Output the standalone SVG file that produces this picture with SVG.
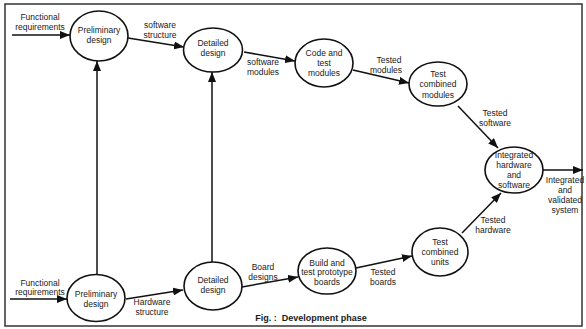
<svg xmlns="http://www.w3.org/2000/svg" width="586" height="329" viewBox="0 0 586 329">
<style>
.n{fill:#fff;stroke:#111;stroke-width:1.6}
.t{font-family:"Liberation Sans",Arial,sans-serif;font-size:8.5px;fill:#1a1a1a;text-anchor:middle;dominant-baseline:central}
.c{stroke:#111;stroke-width:1.5;fill:none;marker-end:url(#ah)}
.cap{font-family:"Liberation Sans",Arial,sans-serif;font-size:9px;font-weight:bold;fill:#1a1a1a;text-anchor:middle;dominant-baseline:central}
</style>
<defs>
<marker id="ah" markerUnits="userSpaceOnUse" markerWidth="10" markerHeight="8" refX="10" refY="4" orient="auto">
<path d="M0,0 L10,4 L0,8 z" fill="#111"/>
</marker>
</defs>
<rect x="0" y="0" width="586" height="329" fill="#fff"/>
<rect x="5" y="4" width="577" height="322" fill="none" stroke="#333" stroke-width="1.5"/>
<g id="connectors">
<line class="c" x1="12" y1="35" x2="70" y2="35"/>
<line class="c" x1="128" y1="38" x2="184" y2="47"/>
<line class="c" x1="97" y1="275" x2="97" y2="61"/>
<line class="c" x1="212" y1="262" x2="212" y2="72"/>
<line class="c" x1="244" y1="52" x2="295" y2="61"/>
<line class="c" x1="353" y1="70" x2="409" y2="83"/>
<line class="c" x1="458" y1="106" x2="498" y2="148"/>
<line class="c" x1="543" y1="170" x2="583" y2="170"/>
<line class="c" x1="462" y1="233" x2="501" y2="193"/>
<line class="c" x1="356" y1="268" x2="412" y2="256"/>
<line class="c" x1="242" y1="287" x2="298" y2="277"/>
<line class="c" x1="10" y1="299" x2="67" y2="299"/>
<line class="c" x1="126" y1="299" x2="183" y2="290"/>
<text class="t" x="40" y="17">Functional</text>
<text class="t" x="40" y="27">requirements</text>
<text class="t" x="160" y="25">software</text>
<text class="t" x="160" y="35">structure</text>
<text class="t" x="263" y="62">software</text>
<text class="t" x="263" y="72">modules</text>
<text class="t" x="389" y="60">Tested</text>
<text class="t" x="386" y="70">modules</text>
<text class="t" x="495" y="113">Tested</text>
<text class="t" x="495" y="123">software</text>
<text class="t" x="565" y="180">Integrated</text>
<text class="t" x="565" y="190">and</text>
<text class="t" x="565" y="200">validated</text>
<text class="t" x="565" y="210">system</text>
<text class="t" x="493" y="220">Tested</text>
<text class="t" x="493" y="230">hardware</text>
<text class="t" x="383" y="272">Tested</text>
<text class="t" x="383" y="282">boards</text>
<text class="t" x="263" y="267">Board</text>
<text class="t" x="263" y="277">designs</text>
<text class="t" x="40" y="283">Functional</text>
<text class="t" x="40" y="292">requirements</text>
<text class="t" x="152" y="302">Hardware</text>
<text class="t" x="152" y="312">structure</text>
</g>
<g id="prelim-sw">
<ellipse class="n" cx="99" cy="36" rx="29" ry="25"/>
<text class="t" x="99" y="30">Preliminary</text>
<text class="t" x="99" y="40">design</text>
</g>
<g id="detailed-sw">
<ellipse class="n" cx="213" cy="50" rx="29.5" ry="22"/>
<text class="t" x="213" y="43">Detailed</text>
<text class="t" x="213" y="53">design</text>
</g>
<g id="code-test">
<ellipse class="n" cx="324" cy="63" rx="29" ry="24"/>
<text class="t" x="324" y="53">Code and</text>
<text class="t" x="324" y="63">test</text>
<text class="t" x="324" y="73">modules</text>
</g>
<g id="test-modules">
<ellipse class="n" cx="438" cy="84" rx="29" ry="22"/>
<text class="t" x="438" y="74">Test</text>
<text class="t" x="438" y="84">combined</text>
<text class="t" x="438" y="95">modules</text>
</g>
<g id="integrated">
<ellipse class="n" cx="514" cy="170" rx="29" ry="23"/>
<text class="t" x="514" y="155">Integrated</text>
<text class="t" x="514" y="165">hardware</text>
<text class="t" x="514" y="175">and</text>
<text class="t" x="514" y="185">software</text>
</g>
<g id="test-units">
<ellipse class="n" cx="440" cy="252" rx="28" ry="24"/>
<text class="t" x="440" y="242">Test</text>
<text class="t" x="440" y="252">combined</text>
<text class="t" x="440" y="262">units</text>
</g>
<g id="build-boards">
<ellipse class="n" cx="327" cy="271" rx="29" ry="23"/>
<text class="t" x="327" y="263">Build and</text>
<text class="t" x="327" y="272">test prototype</text>
<text class="t" x="327" y="282">boards</text>
</g>
<g id="detailed-hw">
<ellipse class="n" cx="213" cy="286" rx="29" ry="24"/>
<text class="t" x="213" y="280">Detailed</text>
<text class="t" x="213" y="290">design</text>
</g>
<g id="prelim-hw">
<ellipse class="n" cx="96" cy="298" rx="29" ry="23.5"/>
<text class="t" x="96" y="294">Preliminary</text>
<text class="t" x="96" y="304">design</text>
</g>
<text class="cap" x="311" y="318" xml:space="preserve">Fig. :  Development phase</text>
</svg>
